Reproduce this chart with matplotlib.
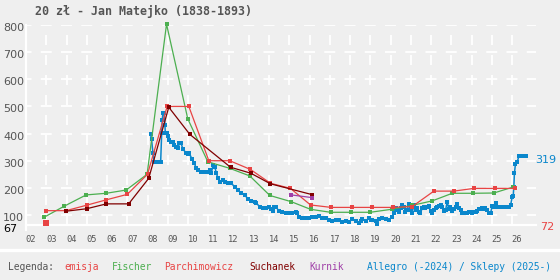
import matplotlib
matplotlib.use("Agg")
import matplotlib.pyplot as plt
import matplotlib.transforms as mtransforms
from matplotlib.lines import Line2D

plt.rcParams['lines.scale_dashes'] = False

# ---------------- data ----------------
title = "20 zł - Jan Matejko (1838-1893)"

emisja_x = [2003.0]
emisja_y = [72]

fischer_x = [2002.9, 2003.9, 2004.97, 2005.96, 2006.95, 2007.98, 2008.94, 2009.99, 2010.98,
             2012.06, 2013.05, 2014.04, 2015.1, 2016.05, 2017.04, 2018.03, 2019.0, 2020.05,
             2021.04, 2022.06, 2023.05, 2024.07, 2025.1, 2026.06]
fischer_y = [92, 133, 174, 180, 192, 250, 803, 454, 296,
             272, 244, 172, 149, 121, 110, 110, 110, 121,
             135, 152, 180, 180, 181, 203]

parch_x = [2003.0, 2003.98, 2004.99, 2005.97, 2007.0, 2008.0, 2008.97, 2010.04, 2011.03,
           2012.06, 2013.08, 2014.07, 2015.06, 2016.05, 2017.07, 2018.1, 2019.1, 2020.1,
           2021.07, 2022.14, 2023.13, 2024.11, 2025.15, 2026.14]
parch_y = [116, 116, 136, 156, 176, 250, 500, 500, 300,
           300, 268, 217, 198, 137, 128, 128, 128, 128,
           131, 188, 188, 198, 198, 198]

such_x = [2003.98, 2004.99, 2005.97, 2007.07, 2008.06, 2009.05, 2010.09, 2012.1, 2013.1,
          2014.07, 2016.13]
such_y = [114, 123, 141, 141, 235, 497, 397, 276, 254, 215, 175]

kurnik_x = [2015.1, 2016.13]
kurnik_y = [174, 164]

allegro_x = [2008.15, 2008.20, 2008.27, 2008.33, 2008.42, 2008.55, 2008.65, 2008.70, 2008.73,
             2008.76, 2008.82, 2008.86, 2008.88, 2008.95, 2009.00, 2009.08, 2009.17, 2009.25,
             2009.33, 2009.42, 2009.50, 2009.58, 2009.66, 2009.75, 2009.91, 2009.99, 2010.07,
             2010.20, 2010.32, 2010.40, 2010.48, 2010.65, 2010.81, 2010.98, 2011.07, 2011.15,
             2011.24, 2011.32, 2011.40, 2011.48, 2011.60, 2011.73, 2011.85, 2011.99, 2012.14,
             2012.30, 2012.46, 2012.63, 2012.80, 2012.97, 2013.13, 2013.30, 2013.38, 2013.54,
             2013.70, 2013.87, 2014.02, 2014.10, 2014.19, 2014.27, 2014.35, 2014.49, 2014.65,
             2014.82, 2014.98, 2015.15, 2015.31, 2015.40, 2015.48, 2015.65, 2015.81, 2015.97,
             2016.14, 2016.30, 2016.46, 2016.63, 2016.80, 2016.96, 2017.12, 2017.29, 2017.45,
             2017.62, 2017.78, 2017.95, 2018.11, 2018.28, 2018.44, 2018.52, 2018.60, 2018.77,
             2018.93, 2019.02, 2019.10, 2019.26, 2019.35, 2019.43, 2019.60, 2019.76, 2019.93,
             2020.09, 2020.17, 2020.25, 2020.33, 2020.41, 2020.50, 2020.58, 2020.66, 2020.74,
             2020.82, 2020.90, 2020.99, 2021.07, 2021.15, 2021.24, 2021.32, 2021.40, 2021.48,
             2021.56, 2021.64, 2021.72, 2021.81, 2021.89, 2021.98, 2022.06, 2022.14, 2022.23,
             2022.31, 2022.39, 2022.47, 2022.55, 2022.63, 2022.72, 2022.80, 2022.88, 2022.96,
             2023.05, 2023.13, 2023.21, 2023.29, 2023.37, 2023.46, 2023.54, 2023.62, 2023.70,
             2023.79, 2023.87, 2023.95, 2024.03, 2024.11, 2024.20, 2024.28, 2024.36, 2024.44,
             2024.53, 2024.61, 2024.69, 2024.78, 2024.86, 2024.94, 2025.02, 2025.10, 2025.19,
             2025.27, 2025.35, 2025.43, 2025.51, 2025.60, 2025.68, 2025.76, 2025.84, 2025.93,
             2026.01, 2026.06, 2026.09, 2026.12, 2026.17, 2026.26, 2026.34, 2026.42, 2026.50,
             2026.58, 2026.67]
allegro_y = [397, 379, 327, 296, 296, 296, 296, 401, 450,
             475, 477, 432, 401, 403, 391, 376, 370, 370,
             358, 352, 346, 364, 364, 342, 329, 325, 327,
             305, 290, 272, 266, 260, 260, 260, 266, 254,
             284, 278, 254, 235, 223, 229, 223, 219, 217,
             204, 192, 180, 174, 158, 153, 149, 143, 131,
             125, 125, 131, 121, 116, 131, 128, 116, 112,
             108, 106, 108, 112, 106, 94, 90, 88, 88,
             94, 94, 96, 88, 88, 82, 78, 82, 80,
             75, 78, 75, 84, 78, 72, 78, 84, 78,
             88, 80, 82, 78, 68, 84, 88, 84, 82,
             94, 106, 125, 118, 112, 125, 137, 128, 112,
             118, 140, 118, 106, 137, 118, 125, 112, 106,
             125, 128, 125, 131, 133, 116, 106, 118, 125,
             128, 133, 137, 128, 116, 118, 149, 121, 128,
             116, 121, 128, 140, 125, 118, 108, 106, 106,
             108, 112, 112, 108, 110, 112, 116, 121, 121,
             125, 121, 125, 118, 106, 106, 133, 128, 143,
             128, 128, 128, 128, 128, 128, 128, 128, 137,
             165, 170, 204, 254, 288, 296, 317, 319, 319,
             319, 319]

y_ticks = [100, 200, 300, 400, 500, 600, 700, 800]
x_years = list(range(2002, 2027))
x_labels = [f"{y % 100:02d}" for y in x_years]
y_min_label = "67"
last_price = "319"
issue_price = "72"

legend_items = [("Legenda:", "#555555"), ("emisja", "#e84444"), ("Fischer", "#4caf50"),
                ("Parchimowicz", "#e84444"), ("Suchanek", "#800000"), ("Kurnik", "#a040a8"),
                ("Allegro (-2024) / Sklepy (2025-)", "#0a87cc")]
legend_px = [8, 64, 112, 164, 249, 309, 359]

# ---------------- style ----------------
BG = "#efefef"
C_BLUE = "#0a87cc"
C_GREEN = "#4caf50"
C_RED = "#e84444"
C_DARK = "#800000"
C_PURPLE = "#a040a8"
GRAY = "#555555"
MONO = "DejaVu Sans Mono"

W, H = 560, 280
fig = plt.figure(figsize=(W / 100, H / 100), dpi=100, facecolor=BG)

ax_l, ax_r, ax_t, ax_b = 26, 536, 25, 225
ax = fig.add_axes([ax_l / W, 1 - ax_b / H, (ax_r - ax_l) / W, (ax_b - ax_t) / H])
ax.set_facecolor(BG)
px_per_year = 20.25
ax.set_xlim(2002, 2002 + (ax_r - ax_l) / px_per_year)
ax.set_ylim(100 - 10 / 0.2714, 800)
for s in ax.spines.values():
    s.set_visible(False)
ax.set_xticks([])
ax.set_yticks([])

P = 0.72  # points per pixel
hstyle = (5.5 * P, (11 * P, 9.25 * P))
ax.hlines(y_ticks, 2002, ax.get_xlim()[1], colors="white", linewidth=1.3,
          linestyles=[hstyle], zorder=1)
vstyle = (0, (10 * P, 10 * P))
ax.vlines(x_years[1:], ax.get_ylim()[0], 800, colors="white", linewidth=1.3,
          linestyles=[vstyle], zorder=1)
ax.axhline(ax.get_ylim()[0], color="white", lw=1.6, zorder=1, clip_on=False)
ax.plot([2002, 2002], [ax.get_ylim()[0] - 18, 800], color="white", lw=1.6, zorder=1,
        clip_on=False)

# ---------------- series ----------------
ax.plot(allegro_x, allegro_y, color=C_BLUE, lw=1.1, marker="s", ms=3.0, mew=0,
        zorder=3, clip_on=False)
ax.plot(fischer_x, fischer_y, color=C_GREEN, lw=0.9, marker="s", ms=3.0, mew=0,
        zorder=4, clip_on=False)
ax.plot(parch_x, parch_y, color=C_RED, lw=0.9, marker="s", ms=3.0, mew=0,
        zorder=4, clip_on=False)
ax.plot(such_x, such_y, color=C_DARK, lw=0.9, marker="s", ms=3.2, mew=0,
        zorder=5, clip_on=False)
ax.plot(kurnik_x, kurnik_y, color=C_PURPLE, lw=0.9, marker="s", ms=3.0, mew=0,
        zorder=5, clip_on=False)
ax.plot(emisja_x, emisja_y, color=C_RED, lw=0, marker="s", ms=4.8, mew=0,
        zorder=6, clip_on=False)

# ---------------- labels ----------------
def px_offset(dx, dy):
    return mtransforms.ScaledTranslation(dx / 100, -dy / 100, fig.dpi_scale_trans)

ytr = mtransforms.blended_transform_factory(fig.transFigure, ax.transData)
for v in y_ticks:
    ax.text(3 / W, v, str(v), transform=ytr + px_offset(0, 3), ha="left", va="center",
            fontsize=8, color=GRAY, family="DejaVu Sans")
fig.text(3 / W, 1 - 229 / H, y_min_label, ha="left", va="center", fontsize=8,
         color="black", family="DejaVu Sans")

xtr = mtransforms.blended_transform_factory(ax.transData, fig.transFigure)
for yr, lab in zip(x_years, x_labels):
    ax.text(yr, 1 - 239 / H, lab, transform=xtr + px_offset(5, 0), ha="center",
            va="center", fontsize=6.3, color=GRAY, family=MONO)

fig.text(535 / W, 1 - 160 / H, last_price, ha="left", va="center", fontsize=8,
         color=C_BLUE, family="DejaVu Sans")
fig.text(540 / W, 1 - 227 / H, issue_price, ha="left", va="center", fontsize=8,
         color=C_RED, family="DejaVu Sans")

fig.text(35 / W, 1 - 12 / H, title, ha="left", va="center", fontsize=8.4,
         fontweight="bold", color=GRAY, family=MONO)

fig.add_artist(Line2D([0, 1], [1 - 250 / H, 1 - 250 / H], transform=fig.transFigure,
                      color="white", lw=2.4))

for i, ((txt, col), x) in enumerate(zip(legend_items, legend_px)):
    if i == len(legend_items) - 1:
        fig.text(551 / W, 1 - 267 / H, txt, ha="right", va="center", fontsize=6.9,
                 color=col, family=MONO)
    else:
        fig.text(x / W, 1 - 267 / H, txt, ha="left", va="center", fontsize=6.9,
                 color=col, family=MONO)

fig.savefig("out.png", dpi=100, facecolor=BG)
